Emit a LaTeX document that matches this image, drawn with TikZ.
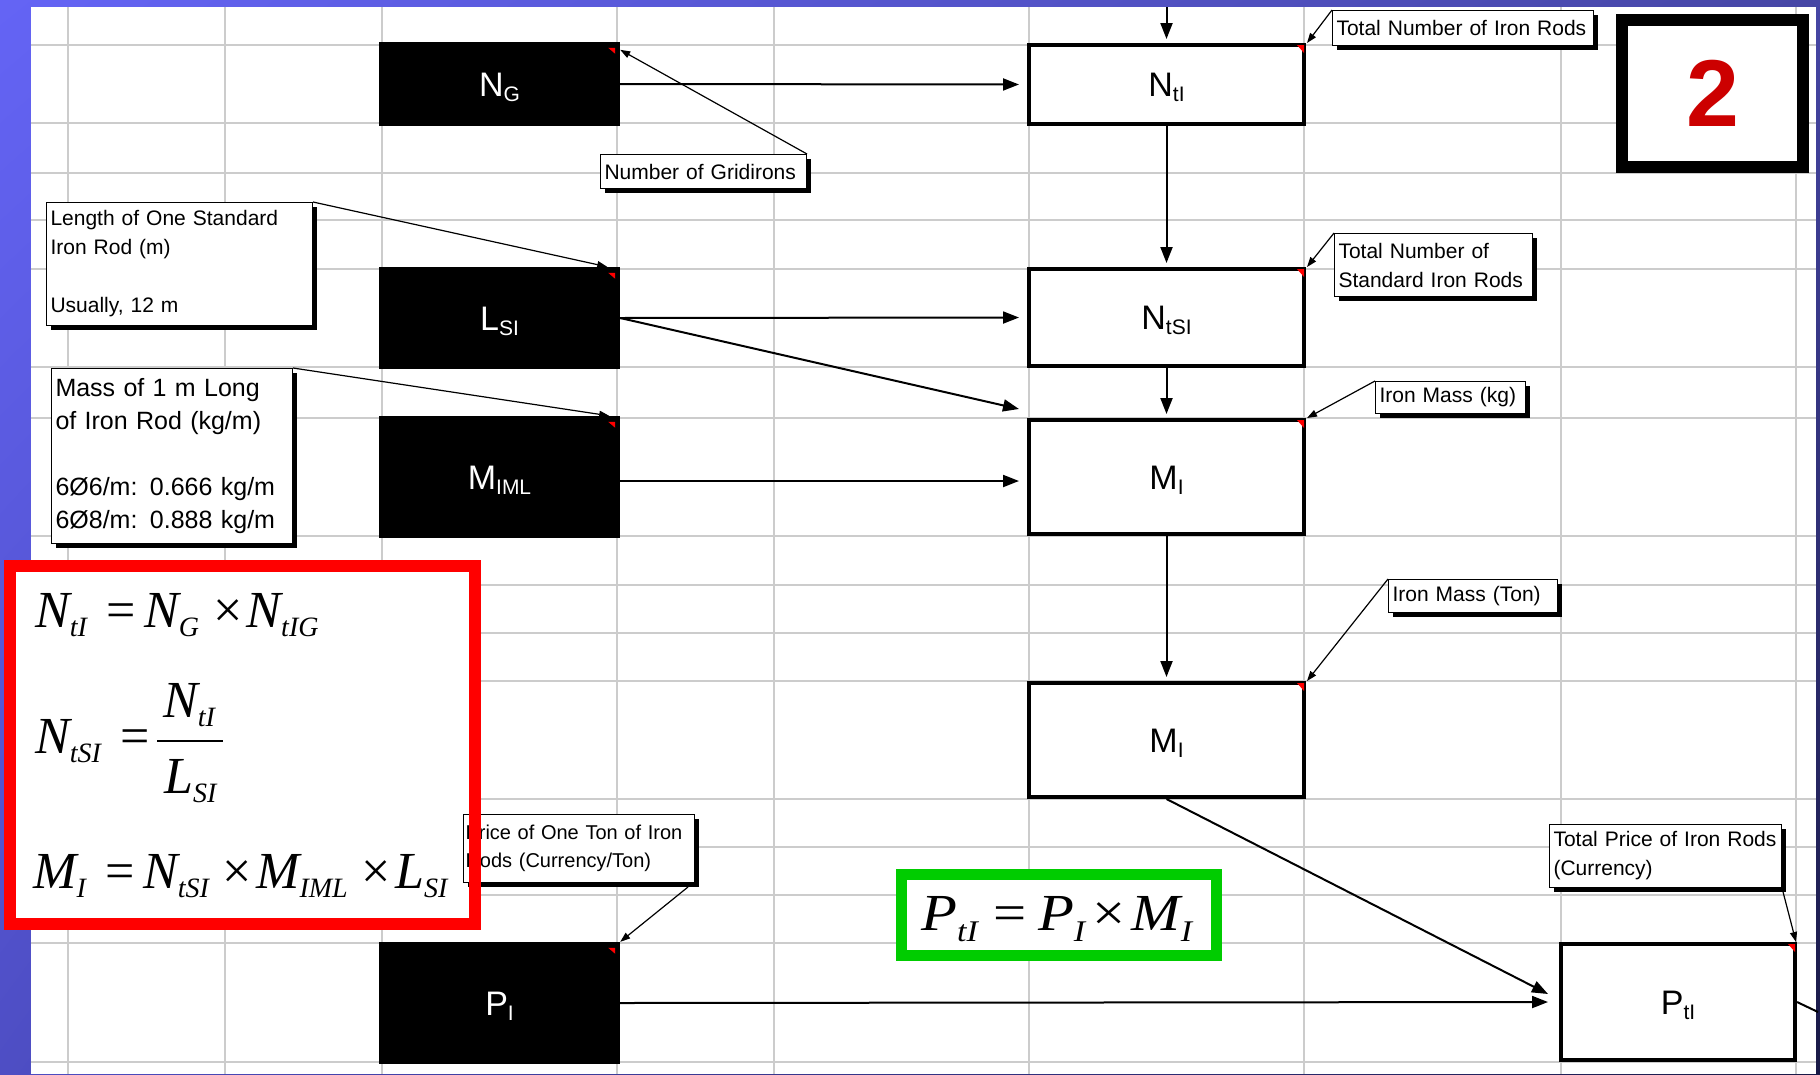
\documentclass[tikz,border=0pt]{standalone}
\usepackage{fontspec}
\setmainfont{Liberation Sans}
\newfontfamily\fml{Liberation Serif}
\usetikzlibrary{arrows.meta,calc,shadows,shadings}

\definecolor{bgTL}{RGB}{100,100,245}
\definecolor{bgTR}{RGB}{70,70,165}
\definecolor{bgBL}{RGB}{78,78,196}
\definecolor{bgBR}{RGB}{25,25,70}
\definecolor{gridgray}{RGB}{204,204,204}
\definecolor{numred}{RGB}{204,0,0}
\definecolor{frmgreen}{RGB}{0,204,0}

% variable label: main letter with a lowered subscript
\newcommand\lbl[2]{{\fontsize{34}{34}\selectfont #1}\raisebox{-5pt}{\fontsize{21}{21}\selectfont #2}}
% formula pieces: italic variable with subscript, upright operators
\newcommand\fv[2]{#1\raisebox{-9pt}{\fontsize{28}{28}\selectfont #2}}
\newcommand\fvb[2]{#1\raisebox{-11pt}{\fontsize{30}{30}\selectfont #2}}
\newcommand\feq{\hspace{20pt}{\upshape =}\hspace{8pt}}
\newcommand\ftimes{\hspace{14pt}{\upshape ×}\hspace{4pt}}

\tikzset{
  gridline/.style={draw=gridgray, line width=2.5pt},
  blackbox/.style={fill=black, text=white, inner sep=0pt, minimum width=241pt,
    text height=24pt, text depth=0pt},
  whitebox/.style={draw=black, line width=4pt, fill=white, inner sep=0pt,
    minimum width=275pt, text height=24pt, text depth=0pt},
  callout/.style={draw=black, line width=1pt, fill=white, anchor=north west,
    inner xsep=4pt, inner ysep=0pt, align=left, font=\fontsize{21}{29}\selectfont,
    drop shadow={shadow xshift=4pt, shadow yshift=-4pt, fill=black, opacity=1}},
  flow/.style={draw=black, line width=2pt, -{Triangle[length=16pt,width=12pt]}},
  pointer/.style={draw=black, line width=1.2pt, -{Triangle[length=10pt,width=7pt]}},
  formula/.style={inner sep=0pt, anchor=base west,
    font=\fml\fontsize{52}{52}\selectfont\itshape},
}

\begin{document}
\begin{tikzpicture}[x=1pt,y=-1pt]
\useasboundingbox (0,0) rectangle (1820,1074);

% slide background and sheet area
\shade[upper left=bgTL, upper right=bgTR, lower left=bgBL, lower right=bgBR]
  (0,0) rectangle (1820,1074);
\fill[white] (31,7) rectangle (1816,1074);

% worksheet grid
\begin{scope}
  \clip (31,7) rectangle (1816,1074);
  \foreach \gx in {68,225,382,617,774,1029,1304,1561,1796}
    \draw[gridline] (\gx,7) -- (\gx,1074);
  \foreach \gy in {45,123,173,220,269,367,418,536,585,633,681,799,847,895,943,1062}
    \draw[gridline] (31,\gy) -- (1816,\gy);
\end{scope}

% white ground of the formula panel (its red frame is drawn later)
\node[fill=white, minimum width=465pt, minimum height=358pt, inner sep=0pt,
  outer sep=0pt] (redbox) at (242.5,745) {};

% input boxes
\node[blackbox, minimum height=84pt]  (NG)   at (499.5,84)  {\lbl{N}{G}};
\node[blackbox, minimum height=102pt] (LSI)  at (499.5,318) {\lbl{L}{SI}};
\node[blackbox, minimum height=122pt] (MIML) at (499.5,477) {\lbl{M}{IML}};
\node[blackbox, minimum height=122pt] (PI)   at (499.5,1003) {\lbl{P}{I}};

% computed boxes
\node[whitebox, minimum height=79pt]  (NtI)  at (1166.5,84.5)  {\lbl{N}{tI}};
\node[whitebox, minimum height=97pt]  (NtSI) at (1166.5,317.5) {\lbl{N}{tSI}};
\node[whitebox, minimum height=114pt] (MI1)  at (1166.5,477)   {\lbl{M}{I}};
\node[whitebox, minimum height=114pt] (MI2)  at (1166.5,740)   {\lbl{M}{I}};
\node[whitebox, minimum width=234pt, minimum height=116pt] (PtI) at (1678,1002) {\lbl{P}{tI}};

% flow connectors
\coordinate (feed) at (1166.5,7);
\coordinate (out) at (1818,1012);
\draw[flow, shorten >=4pt] (feed) -- (NtI.north);
\draw[flow, shorten >=8pt] (NG.east) -- (NtI.west);
\draw[flow, shorten >=8pt] (LSI.east) -- (NtSI.west);
\draw[flow] (LSI.east) -- ($(MI1.north west)+(-8,-9)$);
\draw[flow, shorten >=8pt] ([yshift=-4pt]MIML.east) -- ([yshift=-4pt]MI1.west);
\draw[flow, shorten >=4pt] (NtI.south) -- (NtSI.north);
\draw[flow, shorten >=4pt] (NtSI.south) -- (MI1.north);
\draw[flow, shorten >=4pt] (MI1.south) -- (MI2.north);
\draw[flow] (MI2.south) -- ($(PtI.west)+(-11,-8)$);
\draw[flow, shorten >=11pt] (PI.east) -- (PtI.west);
\draw[line width=2pt] (PtI.east) -- (out);

% comment markers
\foreach \b in {NG,LSI,MIML,PI}
  \fill[red] ($(\b.north east)+(-12,6)$) -- ++(7,0) -- ++(0,6) -- cycle;
\foreach \b in {NtI,NtSI,MI1,MI2,PtI}
  \fill[red] ($(\b.north east)+(-9,2)$) -- ++(7,0) -- ++(0,8) -- cycle;

% comments
\node[callout, text width=198pt, minimum height=34pt] (cgrid) at (600,154) {Number of Gridirons};
\node[callout, text width=258pt, minimum height=123pt] (clen) at (46,202)
  {Length of One Standard\\Iron Rod (m)\\[29pt]Usually, 12 m};
\node[callout, font=\fontsize{25}{33}\selectfont, text width=233pt, minimum height=175pt] (cmass) at (51,368)
  {Mass of 1 m Long\\of Iron Rod (kg/m)\\[33pt]6Ø6/m: 0.666 kg/m\\6Ø8/m: 0.888 kg/m};
\node[callout, text width=253pt, minimum height=35pt] (ctot) at (1332,10) {Total Number of Iron Rods};
\node[callout, text width=190pt, minimum height=63pt] (cstd) at (1334,233) {Total Number of\\Standard Iron Rods};
\node[callout, text width=142pt, minimum height=32pt] (ckg) at (1375,381) {Iron Mass (kg)};
\node[callout, text width=161pt, minimum height=33pt] (cton) at (1388,579) {Iron Mass (Ton)};
\node[callout, font=\fontsize{20}{28}\selectfont, text width=227pt, minimum height=68pt,
  inner xsep=2pt] (cprice) at (463,814)
  {\mbox{Price of One Ton of Iron}\\\mbox{Rods (Currency/Ton)}};
\node[callout, text width=224pt, minimum height=63pt] (cprice2) at (1549,824)
  {Total Price of Iron Rods\\(Currency)};

% comment pointers
\draw[pointer] (cgrid.north east) -- ($(NG.north east)+(0,8)$);
\draw[pointer] (clen.north east) -- ($(LSI.north east)+(-13,0)$);
\draw[pointer] (cmass.north east) -- ($(MIML.north east)+(-11,0)$);
\draw[pointer] (ctot.north west) -- ($(NtI.north east)+(1,0)$);
\draw[pointer] (cstd.north west) -- ($(NtSI.north east)+(1,0)$);
\draw[pointer] (ckg.north west) -- ($(MI1.north east)+(1,0)$);
\draw[pointer] (cton.north west) -- ($(MI2.north east)+(1,0)$);
\draw[pointer] ($(cprice.south east)+(-7,4)$) -- (PI.north east);
\draw[pointer] (cprice2.south east) -- ($(PtI.north east)+(-1,0)$);

% formula panel frames
\draw[red, line width=12pt] (redbox.north west) rectangle (redbox.south east);
\node[draw=frmgreen, line width=11pt, fill=white, minimum width=315pt, minimum height=81pt,
  inner sep=0pt] (greenbox) at (1059,915) {};

\node[formula] (f1) at (35,627) {\fv{N}{tI}\feq\fv{N}{G}\ftimes\fv{N}{tIG}};
\node[formula] (f2) at (35,753) {\fv{N}{tSI}\feq};
\node[formula] (f2n) at (163,717) {\fv{N}{tI}};
\node[formula] (f2d) at (164,793) {\fv{L}{SI}};
\draw[line width=2pt] (157,741) -- (223,741);
\node[formula] (f3) at (33,888) {\fv{M}{I}\feq\fv{N}{tSI}\ftimes\fv{M}{IML}\ftimes\fv{L}{SI}};
\node[formula] (f4) at (921,930) {\scalebox{1.13}[1]{\fvb{P}{tI}\hspace{14pt}{\upshape =}%
  \hspace{10pt}\fvb{P}{I}\hspace{6pt}{\upshape ×}\hspace{6pt}\fvb{M}{I}}};

% page number tag
\node[draw=black, line width=12pt, fill=white, minimum width=181pt, minimum height=147pt,
  inner sep=0pt, font=\fontsize{95}{95}\selectfont\bfseries, text=numred] (numbox)
  at (1712.5,93.5) {2};
\end{tikzpicture}
\end{document}
